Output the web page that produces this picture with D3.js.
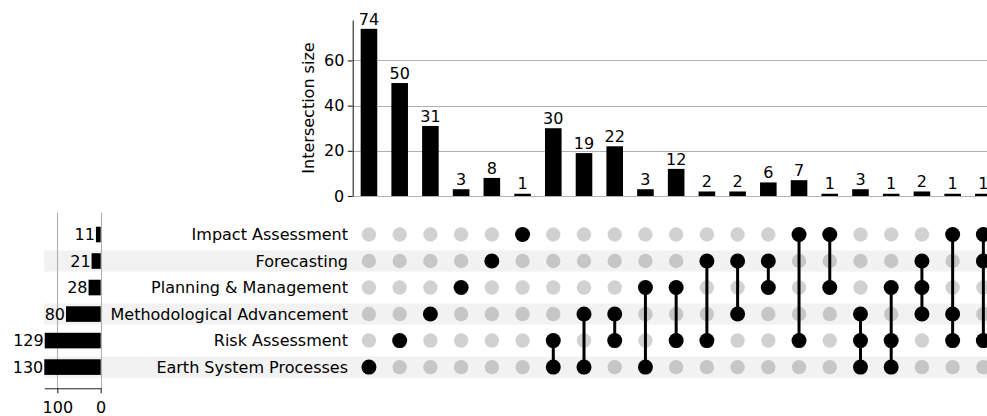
<!DOCTYPE html>
<html>
<head>
<meta charset="utf-8">
<script src="https://cdn.jsdelivr.net/npm/d3@7"></script>
<style>
  body { margin: 0; background: #fff; overflow: hidden; }
  svg { display: block; font-family: "DejaVu Sans", sans-serif; }
</style>
</head>
<body>
<svg id="chart" width="987" height="416"></svg>
<script>
// categories (matrix rows, top to bottom)
const sets = ["Impact Assessment", "Forecasting", "Planning & Management",
    "Methodological Advancement", "Risk Assessment", "Earth System Processes"];
const setSizes = [11, 21, 28, 80, 129, 130];

// intersections (columns, left to right)
const intersectionSizes = [74, 50, 31, 3, 8, 1, 30, 19, 22, 3, 12, 2, 2, 6, 7, 1, 3, 1, 2, 1, 1];
const intersectionMembers = [
    ["Earth System Processes"],
    ["Risk Assessment"],
    ["Methodological Advancement"],
    ["Planning & Management"],
    ["Forecasting"],
    ["Impact Assessment"],
    ["Risk Assessment", "Earth System Processes"],
    ["Methodological Advancement", "Earth System Processes"],
    ["Methodological Advancement", "Risk Assessment"],
    ["Planning & Management", "Earth System Processes"],
    ["Planning & Management", "Risk Assessment"],
    ["Forecasting", "Risk Assessment"],
    ["Forecasting", "Methodological Advancement"],
    ["Forecasting", "Planning & Management"],
    ["Impact Assessment", "Risk Assessment"],
    ["Impact Assessment", "Planning & Management"],
    ["Methodological Advancement", "Risk Assessment", "Earth System Processes"],
    ["Planning & Management", "Risk Assessment", "Earth System Processes"],
    ["Forecasting", "Planning & Management", "Methodological Advancement"],
    ["Impact Assessment", "Methodological Advancement", "Risk Assessment"],
    ["Impact Assessment", "Forecasting", "Risk Assessment"]
];
const yTicks = [0, 20, 40, 60];
const xTicks = [100, 0];

const svg = d3.select("#chart");
const fontSize = 16;
const gridColor = "#b0b0b0";
const rightEdge = 1000;

const cols = d3.range(intersectionSizes.length);
const step = 30.72;
const x = d3.scaleBand()
    .domain(cols)
    .range([353.6, 353.6 + step * cols.length])
    .paddingInner(0.46).paddingOuter(0.23);

const yTop = d3.scaleLinear().domain([0, 77.9]).range([196, 20]);

const rowStep = 27.4;
const yRow = d3.scaleBand()
    .domain(sets)
    .range([218.6, 218.6 + rowStep * sets.length])
    .padding(0.2);

const xLeft = d3.scaleLinear().domain([0, 130]).range([100.7, 44.3]);

// ---- top: intersection size bars ----
const gTop = svg.append("g");

gTop.append("g")
    .selectAll("line")
    .data(yTicks)
    .enter()
    .append("line")
    .attr("x1", 353)
    .attr("x2", rightEdge)
    .attr("y1", d => Math.round(yTop(d)) + 0.5)
    .attr("y2", d => Math.round(yTop(d)) + 0.5)
    .style("stroke", gridColor)
    .style("stroke-width", 1.1);

gTop.append("g")
    .selectAll("rect")
    .data(cols)
    .enter()
    .append("rect")
    .attr("x", i => x(i))
    .attr("width", x.bandwidth())
    .attr("y", i => yTop(intersectionSizes[i]))
    .attr("height", i => yTop(0) - yTop(intersectionSizes[i]))
    .attr("fill", "black");

gTop.append("g")
    .selectAll("text")
    .data(cols)
    .enter()
    .append("text")
    .attr("x", i => x(i) + x.bandwidth() / 2)
    .attr("y", i => yTop(intersectionSizes[i]) - 4.3)
    .attr("text-anchor", "middle")
    .style("font-size", fontSize + "px")
    .text(i => intersectionSizes[i]);

const yAxis = gTop.append("g")
    .attr("transform", "translate(352.7,0)")
    .call(d3.axisLeft(yTop).tickValues(yTicks).tickSize(4.9).tickPadding(3.5).tickSizeOuter(0));
yAxis.select(".domain").attr("stroke", "#222").attr("stroke-width", 1.1);
yAxis.selectAll(".tick line").attr("stroke", "#222").attr("stroke-width", 1.1);
yAxis.selectAll(".tick text")
    .style("font-size", fontSize + "px")
    .style("font-family", "DejaVu Sans, sans-serif")
    .attr("fill", "black");

gTop.append("text")
    .attr("transform", "translate(313.5,108) rotate(-90)")
    .attr("text-anchor", "middle")
    .style("font-size", fontSize + "px")
    .text("Intersection size");

// ---- matrix ----
const matrix = svg.append("g");

matrix.append("g")
    .selectAll("rect")
    .data(sets.filter((d, i) => i % 2 === 1))
    .enter()
    .append("rect")
    .attr("x", 44)
    .attr("width", rightEdge - 44)
    .attr("y", d => yRow(d))
    .attr("height", yRow.bandwidth())
    .attr("fill", "black")
    .attr("fill-opacity", 0.05);

matrix.append("g")
    .selectAll("text")
    .data(sets)
    .enter()
    .append("text")
    .attr("x", 348)
    .attr("y", d => yRow(d) + yRow.bandwidth() / 2)
    .attr("dy", "0.36em")
    .attr("text-anchor", "end")
    .style("font-size", fontSize + "px")
    .text(d => d);

const dots = [];
cols.forEach(function (i) {
    sets.forEach(function (s) {
        dots.push({col: i, set: s, on: intersectionMembers[i].includes(s)});
    });
});

const cx = i => x(i) + x.bandwidth() / 2;
const cy = s => yRow(s) + yRow.bandwidth() / 2;

matrix.append("g")
    .selectAll("circle")
    .data(dots.filter(d => !d.on))
    .enter()
    .append("circle")
    .attr("cx", d => cx(d.col))
    .attr("cy", d => cy(d.set))
    .attr("r", 7.2)
    .attr("fill", "black")
    .attr("fill-opacity", 0.18);

matrix.append("g")
    .selectAll("line")
    .data(cols.filter(i => intersectionMembers[i].length > 1))
    .enter()
    .append("line")
    .attr("x1", i => cx(i))
    .attr("x2", i => cx(i))
    .attr("y1", i => d3.min(intersectionMembers[i], cy))
    .attr("y2", i => d3.max(intersectionMembers[i], cy))
    .style("stroke", "black")
    .style("stroke-width", 3);

matrix.append("g")
    .selectAll("circle")
    .data(dots.filter(d => d.on))
    .enter()
    .append("circle")
    .attr("cx", d => cx(d.col))
    .attr("cy", d => cy(d.set))
    .attr("r", 7.5)
    .attr("fill", "black");

// ---- left: set size bars ----
const gLeft = svg.append("g");

gLeft.append("g")
    .selectAll("line")
    .data(xTicks)
    .enter()
    .append("line")
    .attr("x1", d => Math.round(xLeft(d)) + 0.5)
    .attr("x2", d => Math.round(xLeft(d)) + 0.5)
    .attr("y1", 212.7)
    .attr("y2", 388.3)
    .style("stroke", gridColor)
    .style("stroke-width", 1.1);

const barH = 15.6;
gLeft.append("g")
    .selectAll("rect")
    .data(sets)
    .enter()
    .append("rect")
    .attr("x", (d, i) => xLeft(setSizes[i]))
    .attr("width", (d, i) => xLeft(0) - xLeft(setSizes[i]))
    .attr("y", d => cy(d) - barH / 2)
    .attr("height", barH)
    .attr("fill", "black");

gLeft.append("g")
    .selectAll("text")
    .data(sets)
    .enter()
    .append("text")
    .attr("x", (d, i) => xLeft(setSizes[i]) - 1)
    .attr("y", d => cy(d))
    .attr("dy", "0.36em")
    .attr("text-anchor", "end")
    .style("font-size", fontSize + "px")
    .text((d, i) => setSizes[i]);

const xAxis = gLeft.append("g")
    .attr("transform", "translate(0,388.3)")
    .call(d3.axisBottom(xLeft).tickValues(xTicks).tickSize(4.9).tickPadding(8.8).tickSizeOuter(0));
xAxis.select(".domain").attr("stroke", "#222").attr("stroke-width", 1.1);
xAxis.selectAll(".tick line").attr("stroke", "#222").attr("stroke-width", 1.1);
xAxis.selectAll(".tick text")
    .style("font-size", fontSize + "px")
    .style("font-family", "DejaVu Sans, sans-serif")
    .attr("fill", "black");
</script>
</body>
</html>
